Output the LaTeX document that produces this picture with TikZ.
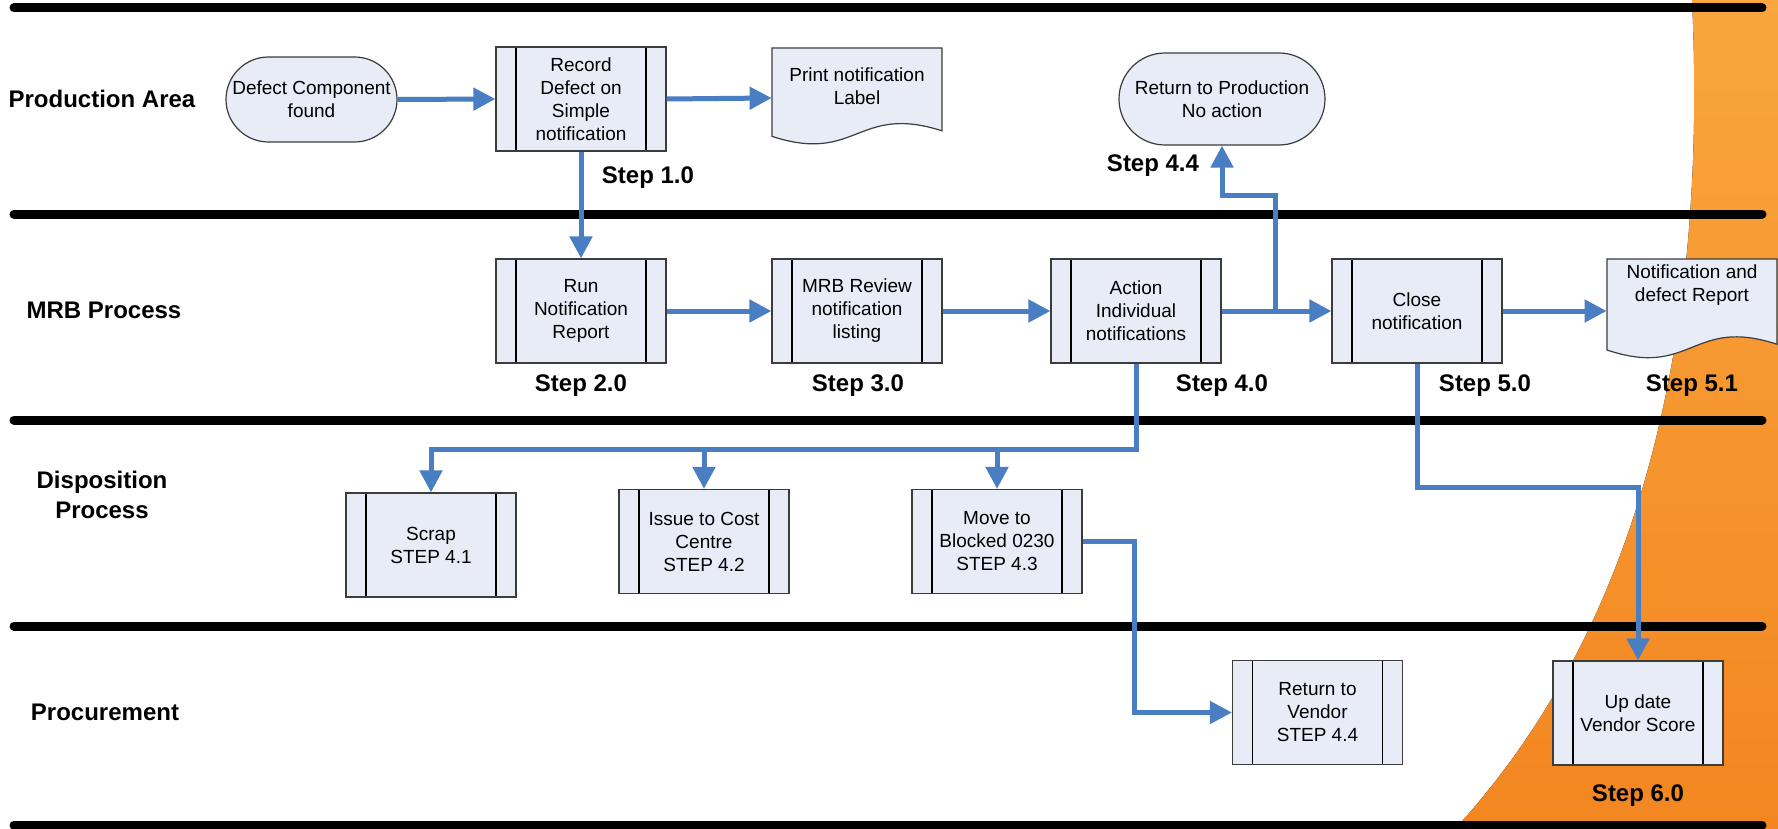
\documentclass[tikz,border=0pt]{standalone}
\usepackage{fontspec}
\setmainfont{Liberation Sans}
\usetikzlibrary{arrows.meta,calc}
\definecolor{boxfill}{RGB}{231,236,247}
\definecolor{boxline}{RGB}{60,60,60}
\definecolor{flowblue}{RGB}{74,126,195}
\definecolor{orangetop}{RGB}{249,166,62}
\definecolor{orangebot}{RGB}{243,134,32}
\newcommand\myboxfont{\fontsize{9.5}{11.5}\selectfont}
\newcommand\mylanefont{\bfseries\fontsize{12}{15}\selectfont}
% document shape: left, top, width, height (in px units)
\newcommand\mydocshape[4]{%
  \filldraw[docshape] (#1,#2) -- ({#1+#3},#2) -- ({#1+#3},{#2+0.82*#4})
    .. controls ({#1+0.5*#3},{#2+0.55*#4}) and ({#1+0.5*#3},{#2+1.15*#4}) .. (#1,{#2+0.875*#4}) -- cycle;}
\begin{document}
\begin{tikzpicture}[x=0.5pt,y=-0.5pt,
  proc/.style={draw=boxline, fill=boxfill, line width=0.6pt,
    minimum width=85pt, minimum height=52pt, inner sep=0pt,
    font=\myboxfont, align=center,
    path picture={\draw[black, line width=0.6pt]
      ([xshift=10pt]path picture bounding box.north west) -- ([xshift=10pt]path picture bounding box.south west)
      ([xshift=-10pt]path picture bounding box.north east) -- ([xshift=-10pt]path picture bounding box.south east);}},
  term/.style={draw=boxline, fill=boxfill, line width=0.6pt, inner sep=0pt,
    font=\myboxfont, align=center},
  docshape/.style={draw=boxline, fill=boxfill, line width=0.6pt},
  docnode/.style={minimum width=85pt, minimum height=52pt, inner sep=0pt},
  doctext/.style={font=\myboxfont, align=center, inner sep=0pt},
  lane/.style={line width=4.5pt, line cap=round, black},
  lanelabel/.style={font=\mylanefont, align=center, inner sep=0pt},
  steplabel/.style={font=\mylanefont, inner sep=0pt},
  flow/.style={draw=flowblue, line width=2.5pt},
  arr/.style={flow, -{Triangle[length=11pt,width=11pt]}}]

\useasboundingbox (0,0) rectangle (1778,829);
\fill[white] (0,0) rectangle (1778,829);

% orange background
\fill[top color=orangetop, bottom color=orangebot]
  (1692,0) .. controls (1705,280) and (1665,600) .. (1455,829)
  -- (1778,829) -- (1778,0) -- cycle;

% lane separators
\foreach \yy in {8,214,420,626,825}
  \draw[lane] (14,\yy) -- (1762,\yy);

% lane labels
\node[lanelabel] (l1) at (102,99) {Production Area};
\node[lanelabel] (l2) at (104,310) {MRB Process};
\node[lanelabel] (l3) at (102,495) {Disposition\\Process};
\node[lanelabel] (l4) at (105,712) {Procurement};

% documents (shapes)
\mydocshape{772}{48}{170}{101}
\mydocshape{1607}{259}{170}{104}

% nodes
\node[term, minimum width=85.5pt, minimum height=42.5pt, rounded corners=21.25pt] (defect) at (311.5,99.5) {Defect Component\\found};
\node[proc] (rec) at (581,99) {Record\\Defect on\\Simple\\notification};
\node[docnode] (print) at (857,98) {};
\node[doctext] (printtxt) at (857,86) {Print notification\\Label};
\node[term, minimum width=103pt, minimum height=46pt, rounded corners=23pt] (ret) at (1222,99) {Return to Production\\No action};

\node[proc] (run) at (581,311) {Run\\Notification\\Report};
\node[proc] (mrb) at (857,311) {MRB Review\\notification\\listing};
\node[proc] (act) at (1136,311) {Action\\Individual\\notifications};
\node[proc] (close) at (1417,311) {Close\\notification};
\node[docnode] (notif) at (1692,311) {};
\node[doctext] (notiftxt) at (1692,285) {Notification and\\defect Report};

\node[proc] (scrap) at (431,545) {Scrap\\STEP 4.1};
\node[proc] (issue) at (704,541.5) {Issue to Cost\\Centre\\STEP 4.2};
\node[proc] (move) at (997,541.5) {Move to\\Blocked 0230\\STEP 4.3};

\node[proc] (rtv) at (1317.5,712.5) {Return to\\Vendor\\STEP 4.4};
\node[proc] (upd) at (1638,713) {Up date\\Vendor Score};

% step labels
\node[steplabel] (s10) at (648,178) {Step 1.0};
\node[steplabel] (s44) at (1153,166) {Step 4.4};
\node[steplabel] (s20) at (581,386) {Step 2.0};
\node[steplabel] (s30) at (858,386) {Step 3.0};
\node[steplabel] (s40) at (1222,386) {Step 4.0};
\node[steplabel] (s50) at (1485,386) {Step 5.0};
\node[steplabel] (s51) at (1692,386) {Step 5.1};
\node[steplabel] (s60) at (1638,796) {Step 6.0};

% connector coordinates
\coordinate (br) at (1275,311);
\coordinate (br2) at (1275,195);
\coordinate (split) at (1136,449);
\coordinate (splitl) at (431,449);
\coordinate (mv) at (1134,541.5);
\coordinate (cl) at (1417,487);

% connectors
\draw[arr] (defect.east) -- (rec.west);
\draw[arr] (rec.east) -- (print.west);
\draw[arr] (rec.south) -- (run.north);
\draw[arr] (run.east) -- (mrb.west);
\draw[arr] (mrb.east) -- (act.west);
\draw[arr] (act.east) -- (close.west);
\draw[arr] (close.east) -- (notif.west);
\draw[arr] (br) -- (br2) -| (ret.south);
\draw[flow] (act.south) -- (split) -- (splitl);
\draw[arr] (split) -| (scrap.north);
\draw[arr] (split) -| (issue.north);
\draw[arr] (split) -| (move.north);
\draw[arr] (move.east) -- (mv) |- (rtv.west);
\draw[arr] (close.south) -- (cl) -| (upd.north);

\end{tikzpicture}
\end{document}
